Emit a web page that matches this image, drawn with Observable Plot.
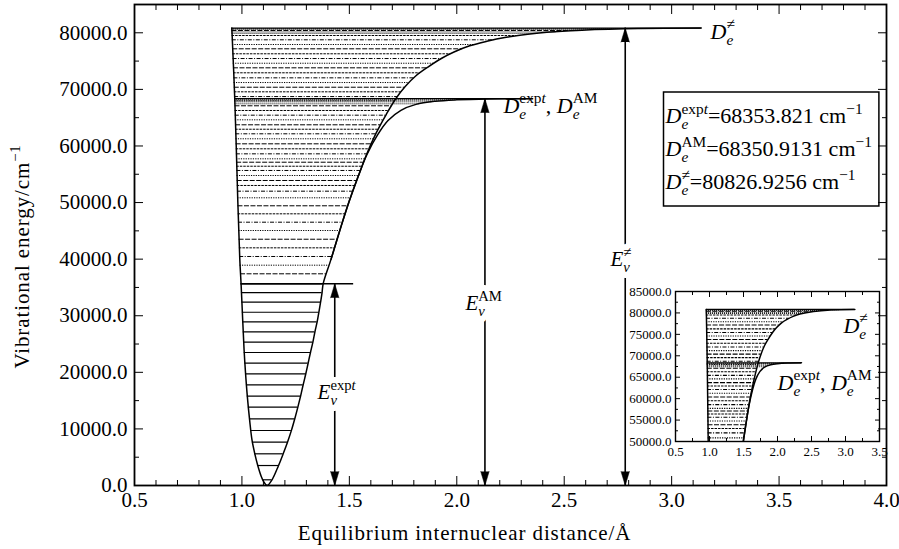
<!DOCTYPE html>
<html><head><meta charset="utf-8">
<script src="https://cdn.jsdelivr.net/npm/d3@7"></script>
<script src="https://cdn.jsdelivr.net/npm/@observablehq/plot@0.6"></script>
<style>
body{margin:0;background:#fff;}
#wrap{position:relative;width:899px;height:549px;background:#fff;}
#inset{position:absolute;left:619px;top:285px;}
#wrap svg text, #wrap svg tspan{font-family:"Liberation Serif","DejaVu Serif" !important;}
</style></head><body><div id="wrap"></div>
<script>
// ---------------- data ----------------
// dissociation energies, cm^-1
const deExpt = 68353.821;
const deAM = 68350.9131;
const deNe = 80826.9256;

// potential curve: left (repulsive) wall, [r (Å), E (cm^-1)], from top to minimum
const leftWall = [[0.953,80826.9256],[0.967,68000],[0.981,50000],[0.990,40000],[0.996,35640],[1.004,28900],[1.010,24000],[1.016,20300],[1.025,15800],[1.036,11500],[1.047,8000],[1.060,5600],[1.074,3500],[1.090,1600],[1.101,700],[1.117,0]];
// shared right branch, from minimum upwards
const rightBranch = [[1.117,0],[1.140,1000],[1.170,3500],[1.192,5600],[1.212,7650],[1.230,9700],[1.246,11800],[1.260,13800],[1.273,15800],[1.285,17800],[1.297,19700],[1.308,21600],[1.319,23500],[1.330,25300],[1.340,27200],[1.350,28900],[1.358,30600],[1.366,32400],[1.373,34100],[1.378,35640],[1.415,40000],[1.455,45000],[1.500,50300],[1.540,54500]];
// upper part of the D_e^≠ curve
const upperNe = [[1.580,58500],[1.625,62300],[1.672,65600],[1.716,68353],[1.760,70500],[1.810,72400],[1.864,73900],[1.930,75500],[1.987,76600],[2.060,77700],[2.140,78500],[2.230,79200],[2.330,79750],[2.530,80350],[2.780,80700],[3.138,80826.9256]];
// upper part of the D_e^expt / D_e^AM curve
const upperExpt = [[1.582,58500],[1.632,62000],[1.680,64500],[1.740,66300],[1.810,67350],[1.900,67900],[2.000,68150],[2.150,68300],[2.353,68353.821]];

// vibrational levels (cm^-1)
const solidLevels = [1007,3530,5600,7650,9720,11790,13840,15780,17790,19740,21610,23500,25320,27160,28930,30620,32390,34100,35640];
const upperLevels = [37410,38930,40470,42000,43520,45060,46530,48010,49430,50840,52010,53020,53900,54780,55670,56420,57130,57730,58610,59500,60380,61270,62150,62960,63740,64620,65440,66270,67100,67980,68730,69570,70380,71210,72040,72930,73810,74620,75450,76290,77170,77930,78760,79520,80400];
const nearLimitExpt = [67450,67800,68080,68250];
const nearLimitNe = [79900,80150,80600,80750];

// horizontal limit lines: energy and right end (Å)
const limitLines = [{E: deExpt, r2: 2.353},{E: deNe, r2: 3.138}];
const exptTop = [{E: 35640, r2: 1.52}];

// double arrows: position (Å), top energy; label anchor
const arrowsData = [
  {r: 1.432, top: 35640, key: "Ev_expt", labelR: 1.352, labelE: 16430},
  {r: 2.131, top: deAM, key: "Ev_AM", labelR: 2.040, labelE: 32160},
  {r: 2.784, top: deNe, key: "Ev_ne", labelR: 2.715, labelE: 39930}
];
const mainLabels = [{key: "De_ne", r: 3.181, E: 80220},{key: "De_both", r: 2.217, E: 67150}];
const insetLabels = [{key: "De_ne", r: 2.97, E: 77070},{key: "De_both", r: 2.0, E: 63770}];
const legendRows = [{key: "leg_expt", v: deExpt},{key: "leg_AM", v: deAM},{key: "leg_ne", v: deNe}];

// ticks
const xMajor = [0.5,1.0,1.5,2.0,2.5,3.0,3.5,4.0];
const yMajor = [0,10000,20000,30000,40000,50000,60000,70000,80000];
const insetXMajor = [0.5,1.0,1.5,2.0,2.5,3.0,3.5];
const insetYMajor = [50000,55000,60000,65000,70000,75000,80000,85000];

// ---------------- helpers ----------------
const xMinor = d3.range(6, 40).filter(k => k % 5 !== 0).map(k => k / 10);
const yMinor = d3.range(5000, 85001, 10000);
const insetXMinor = d3.range(0.75, 3.5, 0.5);
const insetYMinor = d3.range(52500, 85000, 5000);

function interp(pts, E) {
  if (E <= pts[0][1]) return pts[0][0];
  for (let i = 1; i < pts.length; i++) {
    if (E <= pts[i][1]) {
      const [r0, e0] = pts[i-1], [r1, e1] = pts[i];
      return r0 + (r1 - r0) * (E - e0) / (e1 - e0);
    }
  }
  return pts[pts.length-1][0];
}
const wallAsc = leftWall.slice().sort((a, b) => a[1] - b[1]);
const rightNe = rightBranch.concat(upperNe);
const rightExpt = rightBranch.concat(upperExpt);
const xLeft = E => interp(wallAsc, E);
const xRightNe = E => interp(rightNe, E);
const xRightExpt = E => interp(rightExpt, E);
const curveNe = leftWall.concat(rightBranch.slice(1), upperNe);
const curveExpt = rightBranch.slice(-4).concat(upperExpt);

const dashPatterns = ["5,1.5", "1.2,1.2", "4,1.5,1,1.5", "2.5,1"];
const F1 = d3.format(".1f");
const blank = () => "";

function levelMarks(minE, sw, clip) {
  const m = [];
  m.push(Plot.ruleY(solidLevels.filter(e => e >= minE), {y: d => d, x1: xLeft, x2: xRightNe, stroke: "black", strokeWidth: 1.2, clip}));
  dashPatterns.forEach((p, k) => {
    m.push(Plot.ruleY(upperLevels.filter((e, i) => i % dashPatterns.length === k && e >= minE), {y: d => d, x1: xLeft, x2: xRightNe, stroke: "black", strokeWidth: sw, strokeDasharray: p, clip}));
  });
  m.push(Plot.ruleY(nearLimitExpt, {y: d => d, x1: xLeft, x2: xRightExpt, stroke: "black", strokeWidth: sw, strokeDasharray: "1,1", clip}));
  m.push(Plot.ruleY(nearLimitNe, {y: d => d, x1: xLeft, x2: xRightNe, stroke: "black", strokeWidth: sw, strokeDasharray: "1,1", clip}));
  m.push(Plot.ruleY(limitLines, {y: "E", x1: d => xLeft(d.E), x2: "r2", stroke: "black", strokeWidth: 1.3, clip}));
  m.push(Plot.line(curveNe, {x: d => d[0], y: d => d[1], curve: "catmull-rom", stroke: "black", strokeWidth: 1.5, clip}));
  m.push(Plot.line(curveExpt, {x: d => d[0], y: d => d[1], curve: "catmull-rom", stroke: "black", strokeWidth: 1.5, clip}));
  return m;
}

function tickAxes(xMaj, xMin, yMaj, yMin, big, small, fs, padX, padY) {
  return [
    Plot.axisX({anchor: "bottom", ticks: xMaj, tickSize: 0, tickPadding: padX, tickFormat: F1, fontSize: fs, label: null}),
    Plot.axisY({anchor: "left", ticks: yMaj, tickSize: 0, tickPadding: padY, tickFormat: F1, fontSize: fs, label: null}),
    Plot.axisX({anchor: "bottom", ticks: xMaj, tickSize: -big, tickFormat: blank, label: null}),
    Plot.axisX({anchor: "bottom", ticks: xMin, tickSize: -small, tickFormat: blank, label: null}),
    Plot.axisX({anchor: "top", ticks: xMaj, tickSize: -big, tickFormat: blank, label: null}),
    Plot.axisX({anchor: "top", ticks: xMin, tickSize: -small, tickFormat: blank, label: null}),
    Plot.axisY({anchor: "left", ticks: yMaj, tickSize: -big, tickFormat: blank, label: null}),
    Plot.axisY({anchor: "left", ticks: yMin, tickSize: -small, tickFormat: blank, label: null}),
    Plot.axisY({anchor: "right", ticks: yMaj, tickSize: -big, tickFormat: blank, label: null}),
    Plot.axisY({anchor: "right", ticks: yMin, tickSize: -small, tickFormat: blank, label: null})
  ];
}

// math-like labels as tspans
const it = s => ({s, it: true});
const rm = s => ({s});
const sub = s => ({s, pos: "sub", it: true});
const sup = (s, italic, back) => ({s, pos: "sup", it: !!italic, back: !!back});
const supExpt = [sup("exp", false, true), sup("t", true)];
const mathSpecs = {
  De_ne: [it("D"), sub("e"), sup("≠", false, true)],
  De_both: [it("D"), sub("e"), ...supExpt, rm(", "), it("D"), sub("e"), sup("AM", false, true)],
  Ev_expt: [it("E"), sub("v"), ...supExpt],
  Ev_AM: [it("E"), sub("v"), sup("AM", false, true)],
  Ev_ne: [it("E"), sub("v"), sup("≠", false, true)],
  leg_expt: [it("D"), sub("e"), ...supExpt, rm("=" + deExpt + " cm"), sup("−1")],
  leg_AM: [it("D"), sub("e"), sup("AM", false, true), rm("=" + deAM + " cm"), sup("−1")],
  leg_ne: [it("D"), sub("e"), sup("≠", false, true), rm("=" + deNe + " cm"), sup("−1")],
  ytitle: [rm("Vibrational energy/cm"), sup("−1")],
  xtitle: [rm("Equilibrium internuclear distance/Å")]
};
function mathify(svg) {
  const NS = "http://www.w3.org/2000/svg";
  svg.querySelectorAll("text").forEach(el => {
    const key = el.textContent;
    const spec = mathSpecs[key];
    if (!spec) return;
    el.setAttribute("data-key", key);
    const fs = parseFloat(getComputedStyle(el).fontSize);
    while (el.firstChild) el.removeChild(el.firstChild);
    let cur = 0, lastSub = null;
    for (const t of spec) {
      const ts = document.createElementNS(NS, "tspan");
      const target = t.pos === "sub" ? 0.28 * fs : t.pos === "sup" ? -0.42 * fs : 0;
      if (target !== cur) { ts.setAttribute("dy", target - cur); cur = target; }
      if (t.pos) ts.setAttribute("font-size", 0.7 * fs);
      if (t.it) ts.setAttribute("font-style", "italic");
      ts.textContent = t.s;
      el.appendChild(ts);
      if (t.back && lastSub) ts.setAttribute("dx", -lastSub.getComputedTextLength());
      lastSub = t.pos === "sub" ? ts : null;
    }
    if (key === "xtitle" || key === "ytitle") el.setAttribute("letter-spacing", "0.9px");
  });
}

// ---------------- main plot ----------------
const main = Plot.plot({
  width: 899, height: 549,
  marginLeft: 134, marginRight: 13, marginTop: 4, marginBottom: 64,
  x: {domain: [0.5, 4.0], label: null},
  y: {domain: [0, 85000], label: null},
  style: "font-family: 'Liberation Serif', 'DejaVu Serif'; font-size: 21px; color: black; background: white;",
  marks: [
    ...levelMarks(0, 1.0, false),
    Plot.ruleY(exptTop, {y: "E", x1: d => xLeft(d.E), x2: "r2", stroke: "black", strokeWidth: 1.6}),
    Plot.ruleX(arrowsData, {x: "r", y1: 0, y2: "top", stroke: "black", strokeWidth: 1.6}),
    Plot.vector(arrowsData, {x: "r", y: "top", rotate: 0, length: 14, r: 4.2, shape: "spike", anchor: "end", fill: "black", stroke: "black", strokeWidth: 0.5}),
    Plot.vector(arrowsData, {x: "r", y: () => 0, rotate: 180, length: 14, r: 4.2, shape: "spike", anchor: "end", fill: "black", stroke: "black", strokeWidth: 0.5}),
    // white halo under the arrow labels, then the labels
    Plot.text(arrowsData, {x: "labelR", y: "labelE", text: "key", textAnchor: "start", lineAnchor: "middle", fontSize: 21, fill: "white", stroke: "white", strokeWidth: 12}),
    Plot.text(arrowsData, {x: "labelR", y: "labelE", text: "key", textAnchor: "start", lineAnchor: "middle", fontSize: 21, fill: "black"}),
    Plot.text(mainLabels, {x: "r", y: "E", text: "key", textAnchor: "start", lineAnchor: "middle", fontSize: 22, fill: "black"}),
    ...legendRows.map((row, i) => Plot.text([row], {frameAnchor: "top-left", dx: 531, dy: 111.7 + 32.8 * i, text: "key", textAnchor: "start", lineAnchor: "middle", fontSize: 22, fill: "black"})),
    Plot.text(["ytitle"], {frameAnchor: "left", dx: -112.7, dy: 11.5, rotate: -90, text: d => d, textAnchor: "middle", lineAnchor: "middle", fontSize: 21, fill: "black"}),
    Plot.text(["xtitle"], {frameAnchor: "bottom", dx: -46, dy: 47.3, text: d => d, textAnchor: "middle", lineAnchor: "middle", fontSize: 21, fill: "black"}),
    ...tickAxes(xMajor, xMinor, yMajor, yMinor, 9, 5, 21, 7, 7),
    Plot.frame({stroke: "black", strokeWidth: 1.8})
  ]
});

// ---------------- inset ----------------
const inset = Plot.plot({
  width: 272, height: 186,
  marginLeft: 56, marginRight: 12, marginTop: 6, marginBottom: 30,
  x: {domain: [0.5, 3.5], label: null},
  y: {domain: [50000, 85000], label: null},
  style: "font-family: 'Liberation Serif', 'DejaVu Serif'; font-size: 13px; color: black; background: transparent;",
  marks: [
    ...levelMarks(50000, 1.1, true),
    Plot.text(insetLabels, {x: "r", y: "E", text: "key", textAnchor: "start", lineAnchor: "middle", fontSize: 22, fill: "black"}),
    ...tickAxes(insetXMajor, insetXMinor, insetYMajor, insetYMinor, 5, 3, 13, 5, 4),
    Plot.frame({stroke: "black", strokeWidth: 1.4})
  ]
});
inset.id = "inset";

const wrap = document.getElementById("wrap");
wrap.appendChild(main);
wrap.appendChild(inset);
mathify(main);
mathify(inset);

// legend box around the legend rows
(function () {
  const svgRect = main.getBoundingClientRect();
  const els = main.querySelectorAll('text[data-key^="leg_"]');
  let x0 = Infinity, y0 = Infinity, x1 = -Infinity, y1 = -Infinity;
  els.forEach(e => {
    const b = e.getBoundingClientRect();
    x0 = Math.min(x0, b.left); y0 = Math.min(y0, b.top);
    x1 = Math.max(x1, b.right); y1 = Math.max(y1, b.bottom);
  });
  if (!isFinite(x0)) return;
  const rect = document.createElementNS("http://www.w3.org/2000/svg", "rect");
  rect.setAttribute("x", x0 - svgRect.left - 1);
  rect.setAttribute("y", y0 - svgRect.top - 8);
  rect.setAttribute("width", x1 - x0 + 8);
  rect.setAttribute("height", y1 - y0 + 16);
  rect.setAttribute("fill", "none");
  rect.setAttribute("stroke", "black");
  rect.setAttribute("stroke-width", 1.5);
  main.appendChild(rect);
})();
</script>
</body></html>
